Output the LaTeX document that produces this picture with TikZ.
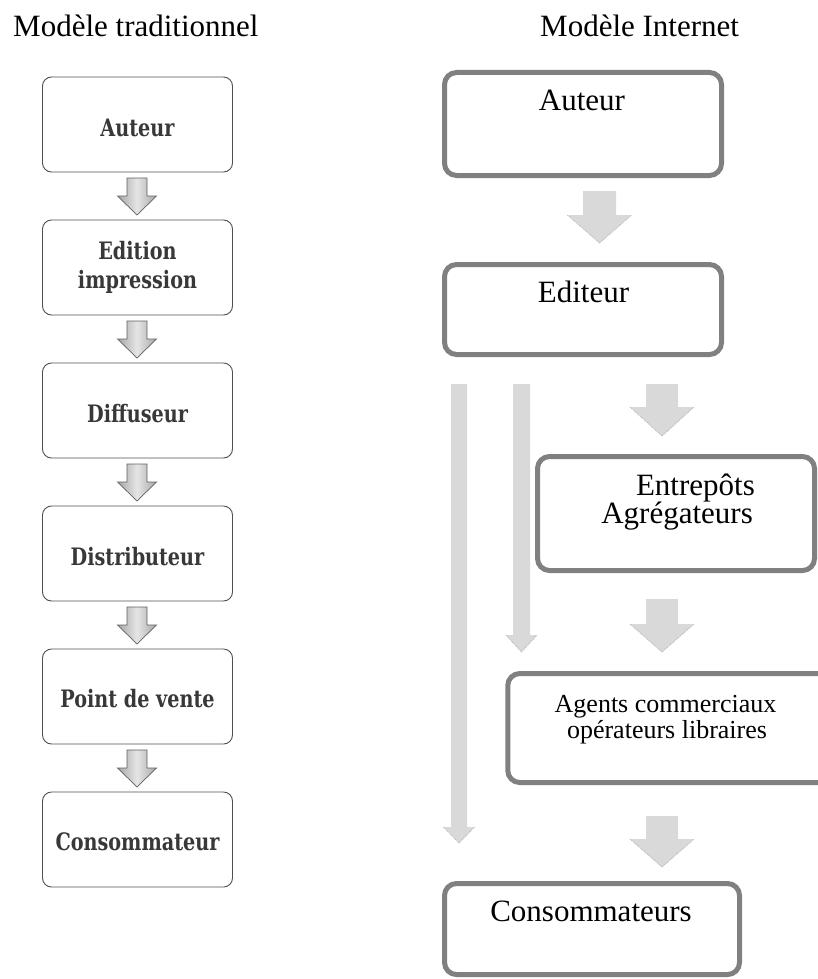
\documentclass[tikz,border=0pt]{standalone}
\usepackage{fontspec}
\setmainfont{Liberation Serif}
\newfontfamily\lboxfont[FakeStretch=0.8]{DejaVu Serif}
\usetikzlibrary{calc}
\definecolor{rboxc}{HTML}{808080}
\definecolor{rarrowc}{HTML}{D9D9D9}
\definecolor{ltextc}{HTML}{383838}
\definecolor{lborderc}{HTML}{505050}
% style, cx, top, head y, tip y, shaft half width, head half width
\newcommand\blockarr[7]{%
  \path[#1] ({#2-#6},#3) -- ({#2+#6},#3) -- ({#2+#6},#4) -- ({#2+#7},#4) -- (#2,#5) -- ({#2-#7},#4) -- ({#2-#6},#4) -- cycle;}
\newcommand\rblockarr[6]{%
  \blockarr{rarrowst}{#1}{#2}{#3}{#4}{#5}{#6}%
  \draw[hedge] ({#1-#6},#3) -- (#1,#4) -- ({#1+#6},#3);}
\begin{document}
\begin{tikzpicture}[x=1pt,y=-1pt,
  lbox/.style={draw=lborderc, line width=0.9pt, rounded corners=9pt, minimum width=190pt, minimum height=95pt, inner sep=0pt, outer sep=0pt, fill=white},
  ltxt/.style={font=\lboxfont\fontsize{24}{29}\selectfont\bfseries, text=ltextc, anchor=base, inner sep=0pt},
  rbox/.style={draw=rboxc, line width=5pt, rounded corners=12pt, inner sep=0pt, outer sep=0pt},
  rtxt/.style={font=\fontsize{31}{31}\selectfont, anchor=base, inner sep=0pt},
  stxt/.style={font=\fontsize{26}{26}\selectfont, anchor=base, inner sep=0pt},
  htxt/.style={font=\fontsize{31}{31}\selectfont, anchor=base west, inner sep=0pt},
  larrowst/.style={draw=gray!75!black, line width=0.7pt, left color=gray!70, right color=gray!70, middle color=gray!20},
  rarrowst/.style={fill=rarrowc},
  hedge/.style={draw=gray!55, line width=0.9pt, densely dotted},
]
\path[use as bounding box] (0,0) rectangle (818,979);
\clip (0,0) rectangle (818,979);

% headings
\node[htxt] (h1) at (13,37) {Modèle traditionnel};
\node[htxt] (h2) at (540,37) {Modèle Internet};

% ---------- left column ----------
\node[lbox] (l1) at (137.5,124.5) {};
\node[lbox] (l2) at (137.5,267.5) {};
\node[lbox] (l3) at (137.5,410.5) {};
\node[lbox] (l4) at (137.5,553.5) {};
\node[lbox] (l5) at (137.5,696.5) {};
\node[lbox] (l6) at (137.5,839.5) {};

\node[ltxt] (lt1) at (137.5,136) {Auteur};
\node[ltxt] (lt2a) at (137.5,259) {Edition};
\node[ltxt] (lt2b) at (137.5,288) {impression};
\node[ltxt] (lt3) at (137.5,422) {Diffuseur};
\node[ltxt] (lt4) at (137.5,565) {Distributeur};
\node[ltxt] (lt5) at (137.5,707) {Point de vente};
\node[ltxt] (lt6) at (137.5,850) {Consommateur};

\blockarr{larrowst}{137}{178}{196}{215}{10}{19.5}
\blockarr{larrowst}{137}{321}{339}{358}{10}{19.5}
\blockarr{larrowst}{137}{464}{482}{501}{10}{19.5}
\blockarr{larrowst}{137}{607}{625}{644}{10}{19.5}
\blockarr{larrowst}{137}{750}{768}{787}{10}{19.5}

% ---------- right column ----------
\node[rbox, minimum width=277pt, minimum height=103pt] (r1) at (583,124) {};
\node[rbox, minimum width=277pt, minimum height=90pt] (r2) at (583,309.5) {};
\node[rbox, minimum width=277pt, minimum height=114pt] (r3) at (676,513.5) {};
\node[rbox, minimum width=332pt, minimum height=109pt] (r4) at (673.75,728) {};
\node[rbox, minimum width=295pt, minimum height=91pt] (r5) at (592,929) {};

\node[rtxt] (rt1) at (582,111) {Auteur};
\node[rtxt] (rt2) at (583.5,302) {Editeur};
\node[rtxt, anchor=base east] (rt3a) at (755,495) {Entrepôts};
\node[rtxt, anchor=base east] (rt3b) at (753,523) {Agrégateurs};
\node[stxt] (rt4a) at (665.5,712) {Agents commerciaux};
\node[stxt] (rt4b) at (667,738) {opérateurs libraires};
\node[rtxt] (rt5) at (591,921) {Consommateurs};

\rblockarr{599.5}{191}{215}{243}{16.5}{32}
\rblockarr{662}{384}{407}{436}{16}{32}
\rblockarr{662}{599}{624}{652}{16}{32}
\rblockarr{662}{816}{839}{867}{16}{32}
\rblockarr{459}{384}{827}{843}{8}{15.5}
\rblockarr{521.5}{384}{635}{652}{8.5}{15.5}
\end{tikzpicture}
\end{document}
